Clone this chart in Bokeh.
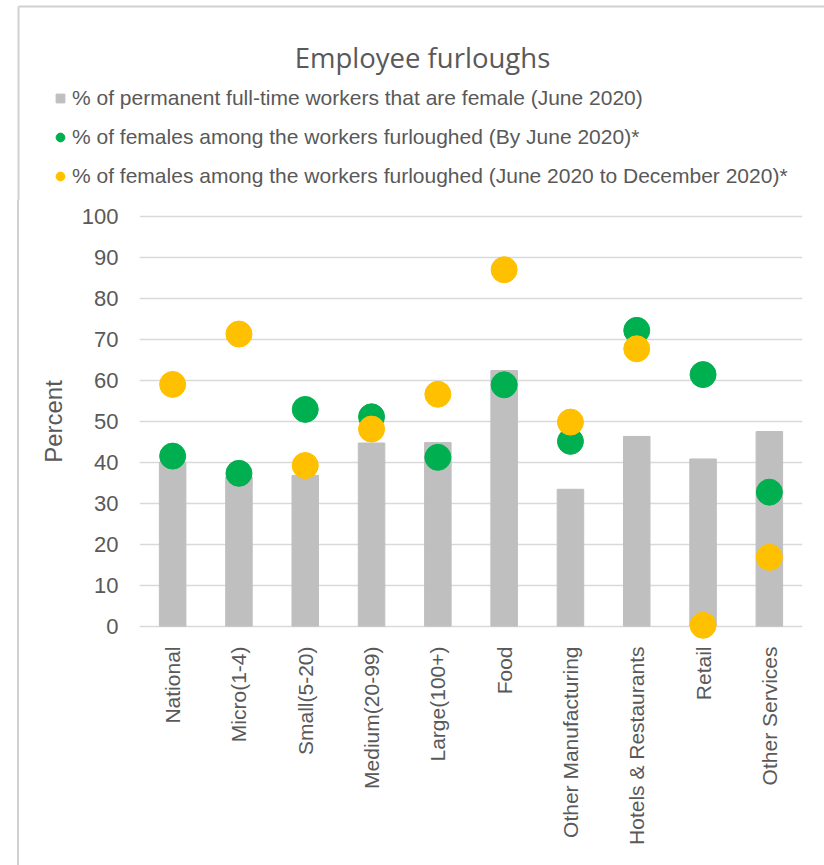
from math import pi

from bokeh.embed import file_html
from bokeh.layouts import column, row
from bokeh.models import (FactorRange, FixedTicker, Label, Legend, LegendItem,
                          Range1d, Spacer)
from bokeh.plotting import figure
from bokeh.resources import INLINE

# Survey data: share of women among permanent staff and among furloughed staff
categories = [
    "National", "Micro(1-4)", "Small(5-20)", "Medium(20-99)", "Large(100+)",
    "Food", "Other Manufacturing", "Hotels & Restaurants", "Retail",
    "Other Services",
]
female_share = [40.0, 36.4, 36.8, 44.7, 44.8, 62.4, 33.4, 46.3, 40.8, 47.5]
furloughed_by_june = [41.5, 37.3, 52.9, 51.1, 41.2, 58.9, 45.1, 72.2, 61.4, 32.7]
furloughed_june_dec = [59.0, 71.3, 39.2, 48.1, 56.6, 87.0, 49.8, 67.7, 0.2, 16.8]
y_ticks = [0, 10, 20, 30, 40, 50, 60, 70, 80, 90, 100]

legend_labels = [
    "% of permanent full-time workers that are female (June 2020)",
    "% of females among the workers furloughed (By June 2020)*",
    "% of females among the workers furloughed (June 2020 to December 2020)*",
]
chart_title = "Employee furloughs"

GREY = "#BFBFBF"
GREEN = "#00B050"
GOLD = "#FFC000"
TEXT = "#595959"
GRID = "#D9D9D9"
FRAME = "#D0D0D0"

HEAD_H = 200
MAIN_H = 665
STRIP_W = 20
TOTAL_W = 824


def bare(width, height, x_end, y_start, y_end):
    """A figure without axes whose frame fills its whole canvas."""
    f = figure(
        width=width, height=height,
        x_range=Range1d(0, x_end), y_range=Range1d(y_start, y_end),
        x_axis_type=None, y_axis_type=None, min_border=0,
        output_backend="svg", toolbar_location=None,
    )
    f.outline_line_color = None
    f.xgrid.visible = False
    f.ygrid.visible = False
    return f


# ---- header: title, legend and the top/left edge of the chart border ----
head = bare(TOTAL_W, HEAD_H, TOTAL_W, HEAD_H, 0)
head.segment(x0=[18, 18], y0=[6, 6], x1=[TOTAL_W, 18], y1=[6, HEAD_H],
             line_color=FRAME, line_width=2)
head.add_layout(Label(
    x=422, y=57, text=chart_title, text_align="center",
    text_baseline="alphabetic", text_font="Open Sans",
    text_font_size="27.5px", text_color=TEXT,
))

# legend keys: one point each, parked off the visible canvas
grey_key = head.scatter(x=[-100], y=[-100], marker="square", color=GREY)
green_key = head.scatter(x=[-100], y=[-100], marker="circle", color=GREEN)
gold_key = head.scatter(x=[-100], y=[-100], marker="circle", color=GOLD)
legend = Legend(
    items=[
        LegendItem(label=legend_labels[0], renderers=[grey_key]),
        LegendItem(label=legend_labels[1], renderers=[green_key]),
        LegendItem(label=legend_labels[2], renderers=[gold_key]),
    ],
    location=(49, 12),
    orientation="vertical",
    glyph_width=22, glyph_height=24, label_height=24,
    label_standoff=1, spacing=15, padding=0, margin=0,
    border_line_color=None, background_fill_alpha=0,
    label_text_font="Liberation Sans", label_text_font_size="21px",
    label_text_color=TEXT,
)
head.add_layout(legend, "center")

# ---- left edge of the border beside the plot ----
gap_left = Spacer(width=17, height=MAIN_H, margin=0)
edge = Spacer(width=2, height=MAIN_H, margin=0,
              styles={"background-color": FRAME})
gap_right = Spacer(width=STRIP_W - 19, height=MAIN_H, margin=0)

# ---- main chart ----
p = figure(
    width=TOTAL_W - STRIP_W, height=MAIN_H,
    x_range=FactorRange(*categories, range_padding=0),
    y_range=Range1d(-4, 103.9),
    min_border_left=119, min_border_right=22,
    min_border_top=0, min_border_bottom=223,
    output_backend="svg", toolbar_location=None,
)
p.outline_line_color = None

p.xgrid.grid_line_color = None
p.ygrid.ticker = FixedTicker(ticks=y_ticks)
p.ygrid.grid_line_color = GRID
p.ygrid.grid_line_width = 1.5

p.yaxis.ticker = FixedTicker(ticks=y_ticks)
p.yaxis.axis_line_color = None
p.yaxis.major_tick_line_color = None
p.yaxis.major_tick_out = 0
p.yaxis.minor_tick_line_color = None
p.yaxis.major_label_standoff = 21
p.yaxis.major_label_text_font = "Liberation Sans"
p.yaxis.major_label_text_font_size = "22px"
p.yaxis.major_label_text_color = TEXT
p.yaxis.axis_label = "Percent"
p.yaxis.axis_label_text_font = "Liberation Sans"
p.yaxis.axis_label_text_font_size = "24px"
p.yaxis.axis_label_text_font_style = "normal"
p.yaxis.axis_label_text_color = TEXT
p.yaxis.axis_label_standoff = 12

p.xaxis.axis_line_color = None
p.xaxis.major_tick_line_color = None
p.xaxis.major_tick_out = 0
p.xaxis.minor_tick_line_color = None
p.xaxis.major_label_orientation = pi / 2
p.xaxis.major_label_standoff = 4
p.xaxis.major_label_text_font = "Liberation Sans"
p.xaxis.major_label_text_font_size = "21px"
p.xaxis.major_label_text_color = TEXT

p.vbar(x=categories, top=female_share, width=0.4, color=GREY)
p.scatter(x=categories, y=furloughed_by_june, size=26, color=GREEN)
p.scatter(x=categories, y=furloughed_june_dec, size=26, color=GOLD)

layout = column(head, row(gap_left, edge, gap_right, p, spacing=0), spacing=0)

open("out.html", "w").write(file_html(layout, INLINE))
